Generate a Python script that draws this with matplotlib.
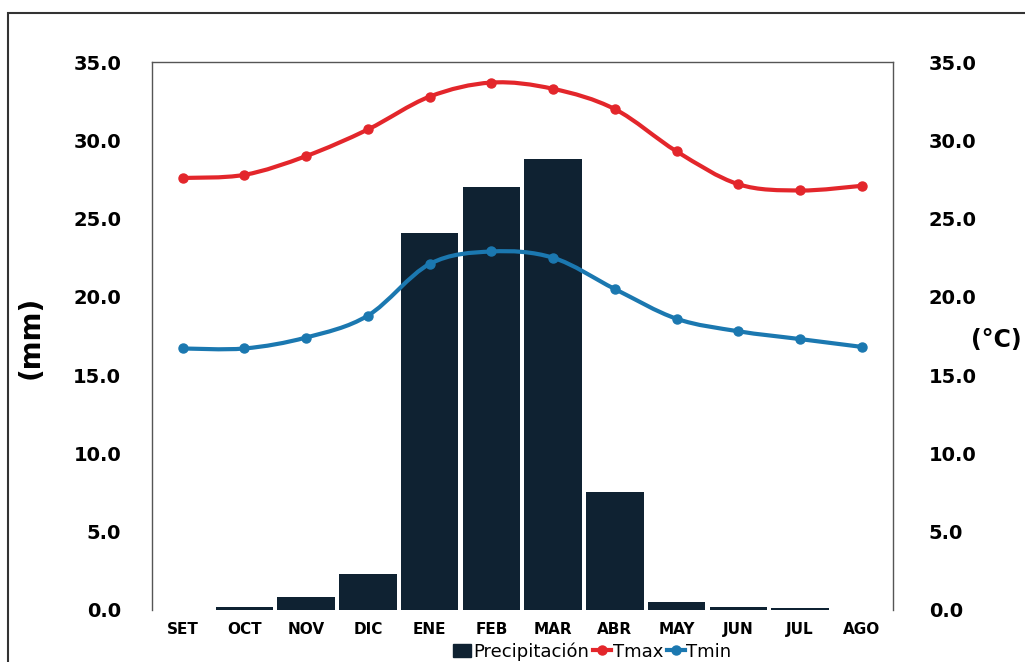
import matplotlib
matplotlib.use("Agg")
import matplotlib.pyplot as plt
from matplotlib.path import Path
from matplotlib.patches import PathPatch, Rectangle
from matplotlib.lines import Line2D

# ==================================
# Data
# ==================================
months = ["SET", "OCT", "NOV", "DIC", "ENE", "FEB",
          "MAR", "ABR", "MAY", "JUN", "JUL", "AGO"]
precip = [0.0, 0.2, 0.8, 2.3, 24.1, 27.0, 28.8, 7.5, 0.5, 0.2, 0.1, 0.0]
tmax = [27.6, 27.8, 29.0, 30.7, 32.8, 33.7, 33.3, 32.0, 29.3, 27.2, 26.8, 27.1]
tmin = [16.7, 16.7, 17.4, 18.8, 22.1, 22.9, 22.5, 20.5, 18.6, 17.8, 17.3, 16.8]
yticks = [0, 5, 10, 15, 20, 25, 30, 35]

bar_color = "#0f2232"
red = "#e3262b"
blue = "#1b78b0"


def smooth_path(xs, ys):
    # Excel-like smoothed line as cubic Bezier segments
    verts = [(xs[0], ys[0])]
    codes = [Path.MOVETO]
    n = len(xs)
    for i in range(n - 1):
        x0, y0 = xs[max(i - 1, 0)], ys[max(i - 1, 0)]
        x1, y1 = xs[i], ys[i]
        x2, y2 = xs[i + 1], ys[i + 1]
        x3, y3 = xs[min(i + 2, n - 1)], ys[min(i + 2, n - 1)]
        c1 = (x1 + (x2 - x0) / 6, y1 + (y2 - y0) / 6)
        c2 = (x2 - (x3 - x1) / 6, y2 - (y3 - y1) / 6)
        verts += [c1, c2, (x2, y2)]
        codes += [Path.CURVE4] * 3
    return Path(verts, codes)


# ==================================
# Figure
# ==================================
fig = plt.figure(figsize=(10.25, 6.62), dpi=100)
ax = fig.add_axes([0.148, 0.079, 0.723, 0.827])

# scanned page frame
fig.patches.append(Rectangle((0.008, -0.1), 1.1, 1.08, transform=fig.transFigure,
                             fill=False, edgecolor="#333333", linewidth=1.5))

x = list(range(len(months)))
ax.bar(x, precip, width=0.93, color=bar_color, zorder=2)

ax.set_xlim(-0.5, len(months) - 0.5)
ax.set_ylim(0, 35)
ax.set_yticks(yticks)
ax.set_yticklabels([f"{v:.1f}" for v in yticks])
ax.set_xticks(x)
ax.set_xticklabels(months)
ax.tick_params(axis="y", length=0, pad=22, labelsize=14)
ax.tick_params(axis="x", length=0, pad=9, labelsize=11)
for lab in ax.get_yticklabels() + ax.get_xticklabels():
    lab.set_fontweight("bold")
for sp in ax.spines.values():
    sp.set_color("#555555")
    sp.set_linewidth(1.0)
ax.spines["bottom"].set_visible(False)

ax2 = ax.twinx()
ax2.set_ylim(0, 35)
ax2.set_yticks(yticks)
ax2.set_yticklabels([f"{v:.1f}" for v in yticks])
ax2.tick_params(axis="y", length=0, pad=26, labelsize=14)
for lab in ax2.get_yticklabels():
    lab.set_fontweight("bold")
for sp in ax2.spines.values():
    sp.set_visible(False)

for vals, col in [(tmax, red), (tmin, blue)]:
    ax2.add_patch(PathPatch(smooth_path(x, vals), fill=False,
                            edgecolor=col, linewidth=3, zorder=3))
    ax2.plot(x, vals, linestyle="none", marker="o", markersize=6.5,
             color=col, zorder=4)

fig.text(0.03, 0.49, "(mm)", rotation=90, ha="center", va="center",
         fontsize=20, fontweight="bold")
fig.text(0.972, 0.486, "(°C)", ha="center", va="center",
         fontsize=17, fontweight="bold")

handles = [
    Rectangle((0, 0), 1, 1, color=bar_color),
    Line2D([], [], color=red, linewidth=3, marker="o", markersize=6.5),
    Line2D([], [], color=blue, linewidth=3, marker="o", markersize=6.5),
]
fig.legend(handles, ["Precipitación", "Tmax", "Tmin"], ncol=3,
           loc="upper center", bbox_to_anchor=(0.578, 0.03),
           frameon=False, fontsize=13, handlelength=1.0, borderpad=0.0,
           handletextpad=0.1, columnspacing=0.2, borderaxespad=0)

fig.savefig("out.png", dpi=100)
